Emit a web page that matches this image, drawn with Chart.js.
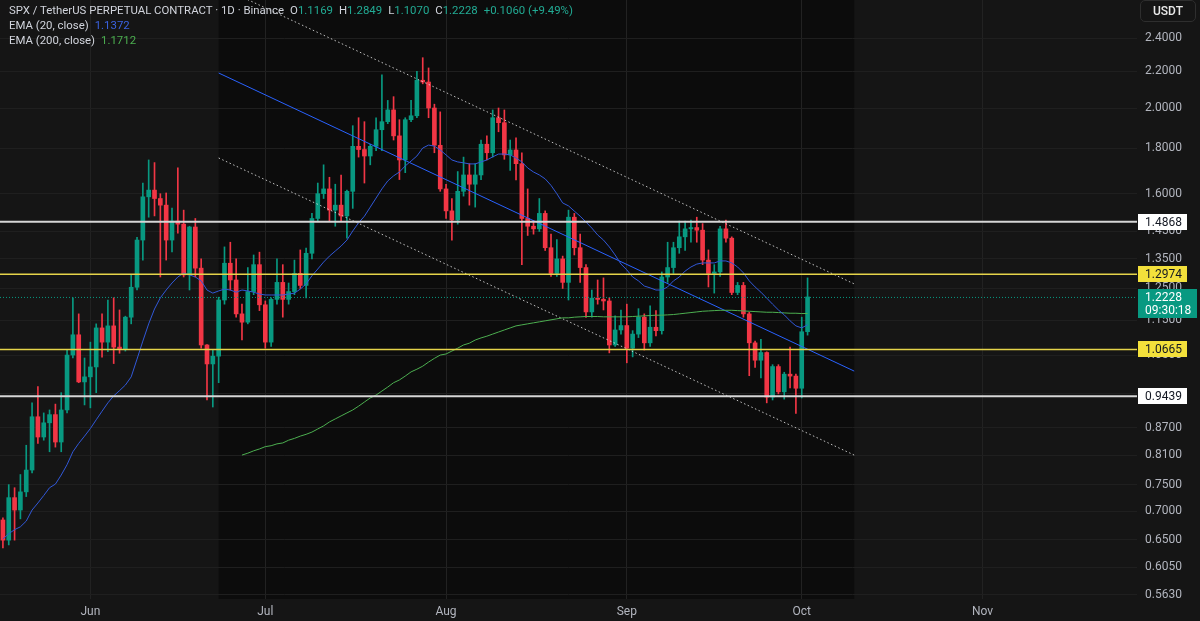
<!DOCTYPE html>
<html>
<head>
<meta charset="utf-8">
<script src="https://cdn.jsdelivr.net/npm/chart.js@4.4.1/dist/chart.umd.min.js"></script>
<style>
html, body { margin: 0; padding: 0; background: #151515; }
#wrap { position: relative; width: 1200px; height: 621px; overflow: hidden; }
#legend { position: absolute; left: 9px; top: 3px; font: 11.4px Roboto, sans-serif; color: #d1d4dc; line-height: 15.2px; white-space: nowrap; }
#legend .k { margin-left: 6px; }
#legend .up { color: #22ab94; }
#legend .e20 { color: #3a62e0; margin-left: 6px; }
#legend .e200 { color: #4caf50; margin-left: 6px; }
#unit { position: absolute; left: 1140px; top: 0; width: 56px; height: 22px; border: 1px solid #2e2e2e; border-radius: 5px; box-sizing: border-box; color: #e8e8e8; font: 500 12px Roboto, sans-serif; line-height: 21px; text-align: center; }
</style>
</head>
<body>
<div id="wrap">
  <canvas id="myChart" width="1200" height="621"></canvas>
  <div id="legend">
    <div><span>SPX / TetherUS PERPETUAL CONTRACT · 1D · Binance</span><span class="k">O</span><span class="up" id="vO"></span><span class="k">H</span><span class="up" id="vH"></span><span class="k">L</span><span class="up" id="vL"></span><span class="k">C</span><span class="up" id="vC"></span><span class="k up" id="vChg"></span></div>
    <div>EMA (20, close)<span class="e20" id="vE20"></span></div>
    <div>EMA (200, close)<span class="e200" id="vE200"></span></div>
  </div>
  <div id="unit">USDT</div>
</div>
<script>
// daily candles from 2025-05-17 to 2025-10-02, axis runs on to late November
const firstDay = [2025, 4, 17];
const dayCount = 195;
const monthTicks = ['Jan', 'Feb', 'Mar', 'Apr', 'May', 'Jun', 'Jul', 'Aug', 'Sep', 'Oct', 'Nov', 'Dec'];
const yTicks = [2.4, 2.2, 2.0, 1.8, 1.6, 1.45, 1.35, 1.25, 1.15, 1.05, 0.95, 0.87, 0.81, 0.75, 0.70, 0.65, 0.605, 0.563];

const opens = [
  0.684, 0.649, 0.725, 0.702, 0.736, 0.779, 0.895, 0.849, 0.881, 0.90,
  0.838, 0.911, 1.051, 1.108, 0.98, 0.993, 1.019, 1.128, 1.087, 1.134,
  1.073, 1.068, 1.16, 1.254, 1.418, 1.587, 1.615, 1.58, 1.553, 1.418,
  1.49, 1.478, 1.295, 1.467, 1.318, 1.079, 1.027, 1.048, 1.213, 1.335,
  1.278, 1.17, 1.145, 1.24, 1.33, 1.198, 1.087, 1.215, 1.27, 1.215,
  1.24, 1.30, 1.26, 1.37, 1.50, 1.60, 1.62, 1.533, 1.553, 1.51,
  1.61, 1.81, 1.795, 1.765, 1.81, 1.89, 1.93, 1.99, 1.86, 1.747,
  1.94, 1.96, 2.15, 2.14, 2.0, 1.815, 1.62, 1.53, 1.494, 1.61,
  1.68, 1.64, 1.68, 1.82, 1.78, 1.95, 1.925, 1.77, 1.793, 1.73,
  1.50, 1.47, 1.46, 1.52, 1.39, 1.30, 1.35, 1.27, 1.505, 1.39,
  1.32, 1.176, 1.219, 1.215, 1.21, 1.079, 1.122, 1.135, 1.07, 1.11,
  1.16, 1.085, 1.13, 1.12, 1.288, 1.32, 1.39, 1.43, 1.46, 1.465,
  1.455, 1.346, 1.30, 1.305, 1.46, 1.425, 1.237, 1.26, 1.17, 1.085,
  1.037, 1.058, 0.942, 1.02, 0.955, 1.0, 0.995, 0.964, 1.1169
];
const highs = [
  0.688, 0.75, 0.744, 0.77, 0.831, 0.928, 0.968, 0.904, 0.911, 0.925,
  0.953, 1.065, 1.22, 1.17, 1.043, 1.087, 1.14, 1.17, 1.213, 1.22,
  1.182, 1.163, 1.295, 1.428, 1.645, 1.747, 1.735, 1.60, 1.603, 1.541,
  1.712, 1.533, 1.47, 1.50, 1.35, 1.08, 1.065, 1.222, 1.393, 1.41,
  1.35, 1.2, 1.32, 1.364, 1.374, 1.21, 1.22, 1.35, 1.33, 1.268,
  1.346, 1.382, 1.389, 1.52, 1.645, 1.725, 1.67, 1.64, 1.68, 1.615,
  1.91, 1.95, 1.93, 1.82, 1.95, 2.18, 2.04, 2.06, 1.94, 1.95,
  2.04, 2.2, 2.28, 2.22, 2.02, 1.98, 1.64, 1.58, 1.695, 1.76,
  1.73, 1.73, 1.84, 1.86, 1.99, 2.0, 1.99, 1.84, 1.85, 1.78,
  1.62, 1.49, 1.58, 1.53, 1.44, 1.42, 1.36, 1.533, 1.52, 1.44,
  1.33, 1.245, 1.278, 1.285, 1.22, 1.164, 1.182, 1.20, 1.12, 1.186,
  1.17, 1.195, 1.18, 1.305, 1.41, 1.41, 1.49, 1.49, 1.494, 1.505,
  1.48, 1.382, 1.33, 1.47, 1.494, 1.43, 1.27, 1.27, 1.175, 1.09,
  1.095, 1.06, 1.025, 1.025, 1.005, 1.073, 1.0, 1.16, 1.2849
];
const lows = [
  0.636, 0.641, 0.649, 0.686, 0.727, 0.773, 0.835, 0.842, 0.817, 0.827,
  0.817, 0.904, 1.043, 0.978, 0.923, 0.916, 0.953, 1.045, 1.06, 1.028,
  1.056, 1.062, 1.14, 1.245, 1.346, 1.505, 1.51, 1.288, 1.346, 1.375,
  1.444, 1.288, 1.245, 1.288, 1.07, 0.935, 0.918, 0.978, 1.20, 1.245,
  1.16, 1.093, 1.14, 1.23, 1.18, 1.07, 1.075, 1.20, 1.16, 1.20,
  1.23, 1.25, 1.22, 1.35, 1.49, 1.58, 1.49, 1.47, 1.49, 1.425,
  1.54, 1.76, 1.645, 1.725, 1.79, 1.79, 1.92, 1.84, 1.66, 1.69,
  1.93, 1.95, 2.13, 1.95, 1.78, 1.61, 1.50, 1.418, 1.478, 1.59,
  1.553, 1.545, 1.66, 1.747, 1.76, 1.88, 1.75, 1.70, 1.658, 1.33,
  1.435, 1.44, 1.45, 1.38, 1.29, 1.29, 1.25, 1.213, 1.364, 1.27,
  1.159, 1.16, 1.20, 1.182, 1.057, 1.075, 1.11, 1.03, 1.046, 1.10,
  1.065, 1.075, 1.105, 1.11, 1.27, 1.30, 1.37, 1.38, 1.41, 1.41,
  1.33, 1.255, 1.235, 1.29, 1.41, 1.23, 1.23, 1.16, 0.996, 1.018,
  0.99, 0.928, 0.935, 0.95, 0.937, 0.965, 0.903, 0.94, 1.107
];
const closes = [
  0.649, 0.725, 0.702, 0.736, 0.779, 0.895, 0.849, 0.881, 0.90, 0.838,
  0.911, 1.051, 1.108, 0.98, 0.993, 1.019, 1.128, 1.087, 1.134, 1.073,
  1.068, 1.16, 1.254, 1.418, 1.587, 1.615, 1.58, 1.553, 1.418, 1.49,
  1.478, 1.295, 1.467, 1.318, 1.079, 1.027, 1.048, 1.213, 1.335, 1.278,
  1.17, 1.145, 1.24, 1.33, 1.198, 1.087, 1.215, 1.27, 1.215, 1.24,
  1.30, 1.26, 1.37, 1.50, 1.60, 1.62, 1.533, 1.553, 1.51, 1.61,
  1.81, 1.795, 1.765, 1.81, 1.89, 1.93, 1.99, 1.86, 1.747, 1.94,
  1.96, 2.15, 2.14, 2.0, 1.815, 1.62, 1.53, 1.494, 1.61, 1.68,
  1.64, 1.68, 1.82, 1.78, 1.95, 1.925, 1.77, 1.793, 1.73, 1.50,
  1.47, 1.46, 1.52, 1.39, 1.30, 1.35, 1.27, 1.505, 1.39, 1.32,
  1.176, 1.219, 1.215, 1.21, 1.079, 1.122, 1.135, 1.07, 1.11, 1.16,
  1.085, 1.13, 1.12, 1.288, 1.32, 1.39, 1.43, 1.46, 1.465, 1.455,
  1.346, 1.30, 1.305, 1.46, 1.425, 1.237, 1.26, 1.17, 1.085, 1.037,
  1.058, 0.942, 1.02, 0.955, 1.0, 0.995, 0.964, 1.1168, 1.2228
];

const ema20 = [
  0.651, 0.660, 0.667, 0.672, 0.682, 0.702, 0.715, 0.729, 0.744, 0.751,
  0.769, 0.790, 0.817, 0.835, 0.851, 0.868, 0.888, 0.908, 0.928, 0.945,
  0.958, 0.972, 0.993, 1.040, 1.090, 1.140, 1.185, 1.220, 1.245, 1.268,
  1.288, 1.301, 1.295, 1.288, 1.275, 1.245, 1.235, 1.242, 1.248, 1.245,
  1.238, 1.245, 1.242, 1.238, 1.232, 1.229, 1.229, 1.229, 1.229, 1.232,
  1.235, 1.248, 1.265, 1.292, 1.315, 1.339, 1.360, 1.378, 1.396, 1.418,
  1.452, 1.483, 1.509, 1.545, 1.582, 1.620, 1.654, 1.676, 1.693, 1.720,
  1.742, 1.765, 1.802, 1.816, 1.811, 1.793, 1.770, 1.747, 1.738, 1.734,
  1.729, 1.729, 1.738, 1.747, 1.761, 1.774, 1.774, 1.770, 1.756, 1.738,
  1.711, 1.693, 1.680, 1.663, 1.635, 1.600, 1.562, 1.550, 1.529, 1.509,
  1.486, 1.463, 1.437, 1.418, 1.393, 1.364, 1.332, 1.312, 1.288, 1.275,
  1.258, 1.252, 1.245, 1.245, 1.255, 1.275, 1.288, 1.308, 1.322, 1.332,
  1.336, 1.336, 1.336, 1.343, 1.343, 1.336, 1.322, 1.302, 1.275, 1.255,
  1.238, 1.219, 1.200, 1.182, 1.167, 1.149, 1.134, 1.128, 1.1372
];
const ema200Start = 41;
const ema200 = [
  0.810, 0.814, 0.819, 0.823, 0.828, 0.830, 0.834, 0.836, 0.842,
  0.846, 0.851, 0.855, 0.860, 0.867, 0.874, 0.883, 0.890, 0.897, 0.904,
  0.911, 0.920, 0.930, 0.940, 0.947, 0.957, 0.967, 0.978, 0.985, 0.995,
  1.006, 1.013, 1.021, 1.032, 1.042, 1.051, 1.054, 1.062, 1.070, 1.079,
  1.084, 1.093, 1.099, 1.104, 1.110, 1.116, 1.122, 1.128, 1.134, 1.137,
  1.140, 1.143, 1.146, 1.149, 1.152, 1.155, 1.158, 1.158, 1.160, 1.161,
  1.162, 1.162, 1.162, 1.161, 1.161, 1.161, 1.161, 1.161, 1.162, 1.163,
  1.164, 1.165, 1.166, 1.166, 1.167, 1.168, 1.170, 1.172, 1.174, 1.176,
  1.178, 1.179, 1.180, 1.181, 1.181, 1.181, 1.180, 1.179, 1.178, 1.177,
  1.176, 1.175, 1.175, 1.174, 1.173, 1.172, 1.172, 1.171, 1.1712
];

// parallel channel drawn on the chart: two anchor candles and the price of each line there
const channelIdx = [37, 146];
const channelUpper = [2.748, 1.265];
const channelMid = [2.191, 1.008];
const channelLower = [1.756, 0.810];

// horizontal levels
const levels = [1.4868, 1.2974, 1.0665, 0.9439];
const lastPrice = 1.2228;
const countdown = '09:30:18';

const UP = '#089981', DOWN = '#f23645';
const levelStyle = [
  { line: '#d6d6d6', box: '#ffffff', w: 2 },
  { line: '#e5d44a', box: '#f3e03b', w: 1.5 },
  { line: '#e5d44a', box: '#f3e03b', w: 1.5 },
  { line: '#d6d6d6', box: '#ffffff', w: 2 }
];

const days = [];
for (let i = 0; i < dayCount; i++) days.push(new Date(firstDay[0], firstDay[1], firstDay[2] + i));
const labels = days.map(d => d.toISOString().slice(0, 10));
const isMonthStart = i => days[i] && days[i].getDate() === 1;

const candleColors = opens.map((o, i) => closes[i] >= o ? UP : DOWN);

function pad(arr, start) {
  const out = new Array(dayCount).fill(null);
  arr.forEach((v, i) => { out[start + i] = v; });
  return out;
}
function segment(idx, vals) {
  const out = new Array(dayCount).fill(null);
  out[idx[0]] = vals[0];
  out[idx[1]] = vals[1];
  return out;
}

// header values straight from the last candle
const n = closes.length - 1;
const chg = closes[n] - closes[n - 1];
document.getElementById('vO').textContent = opens[n].toFixed(4);
document.getElementById('vH').textContent = highs[n].toFixed(4);
document.getElementById('vL').textContent = lows[n].toFixed(4);
document.getElementById('vC').textContent = closes[n].toFixed(4);
document.getElementById('vChg').textContent = '+' + chg.toFixed(4) + ' (+' + (chg / closes[n - 1] * 100).toFixed(2) + '%)';
document.getElementById('vE20').textContent = ema20[n].toFixed(4);
document.getElementById('vE200').textContent = ema200[ema200.length - 1].toFixed(4);

const overlay = {
  id: 'overlay',
  beforeDraw(chart) {
    const { ctx, chartArea: a, scales: { x } } = chart;
    ctx.save();
    ctx.fillStyle = '#151515';
    ctx.fillRect(0, 0, chart.width, chart.height);
    const x0 = x.getPixelForValue(channelIdx[0]);
    const x1 = x.getPixelForValue(channelIdx[1]);
    ctx.fillStyle = '#0c0c0c';
    ctx.fillRect(x0, a.top, x1 - x0, a.bottom - a.top);
    ctx.restore();
  },
  afterDatasetsDraw(chart) {
    const { ctx, chartArea: a, scales: { y } } = chart;
    ctx.save();
    levels.forEach((v, i) => {
      const py = y.getPixelForValue(v);
      ctx.strokeStyle = levelStyle[i].line;
      ctx.lineWidth = levelStyle[i].w;
      ctx.beginPath();
      ctx.moveTo(a.left, py);
      ctx.lineTo(a.right, py);
      ctx.stroke();
    });
    const pl = y.getPixelForValue(lastPrice);
    ctx.strokeStyle = UP;
    ctx.lineWidth = 1;
    ctx.setLineDash([1, 2]);
    ctx.beginPath();
    ctx.moveTo(a.left, pl + 0.5);
    ctx.lineTo(a.right, pl + 0.5);
    ctx.stroke();
    ctx.restore();
  },
  afterDraw(chart) {
    const { ctx, chartArea: a, scales: { y } } = chart;
    ctx.save();
    // the lowest tick label is cut by the time axis strip
    ctx.fillStyle = '#151515';
    ctx.fillRect(a.right, a.bottom, chart.width - a.right, chart.height - a.bottom);
    ctx.font = '12px Roboto';
    ctx.textBaseline = 'middle';
    levels.forEach((v, i) => {
      const py = Math.round(y.getPixelForValue(v));
      ctx.fillStyle = levelStyle[i].box;
      ctx.fillRect(a.right + 1, py - 8, 49, 16);
      ctx.fillStyle = '#131722';
      ctx.fillText(v.toFixed(4), a.right + 8, py + 0.5);
    });
    const pl = Math.round(y.getPixelForValue(lastPrice));
    ctx.fillStyle = UP;
    ctx.fillRect(a.right + 1, pl - 8, 59, 29);
    ctx.fillStyle = '#ffffff';
    ctx.fillText(lastPrice.toFixed(4), a.right + 8, pl + 0.5);
    ctx.fillText(countdown, a.right + 8, pl + 14);
    ctx.restore();
  }
};

Chart.defaults.font.family = 'Roboto';

new Chart(document.getElementById('myChart'), {
  type: 'bar',
  data: {
    labels: labels,
    datasets: [
      { type: 'line', data: pad(ema20, 0), borderColor: '#3158d8', borderWidth: 1, pointRadius: 0, order: 1 },
      { type: 'line', data: pad(ema200, ema200Start), borderColor: '#4caf50', borderWidth: 1, pointRadius: 0, order: 1 },
      { type: 'line', data: segment(channelIdx, channelUpper), borderColor: 'rgba(225,225,225,0.85)', borderDash: [1.5, 2.5], borderWidth: 1, pointRadius: 0, spanGaps: true, order: 1 },
      { type: 'line', data: segment(channelIdx, channelMid), borderColor: '#2962ff', borderWidth: 1, pointRadius: 0, spanGaps: true, order: 1 },
      { type: 'line', data: segment(channelIdx, channelLower), borderColor: 'rgba(225,225,225,0.85)', borderDash: [1.5, 2.5], borderWidth: 1, pointRadius: 0, spanGaps: true, order: 1 },
      { label: 'wick', data: lows.map((l, i) => [l, highs[i]]), backgroundColor: candleColors, barThickness: 1, grouped: false, order: 3 },
      { label: 'body', data: opens.map((o, i) => [o, closes[i]]), backgroundColor: candleColors, barThickness: 4, minBarLength: 1, grouped: false, order: 2 }
    ]
  },
  options: {
    responsive: false,
    animation: false,
    devicePixelRatio: 1,
    layout: { padding: 0 },
    plugins: { legend: { display: false }, tooltip: { enabled: false } },
    scales: {
      x: {
        offset: true,
        border: { display: false },
        grid: { offset: false, drawTicks: false, color: c => isMonthStart(c.index) ? '#222222' : 'transparent' },
        ticks: {
          autoSkip: false, maxRotation: 0, minRotation: 0, padding: 6,
          color: '#b2b5be', font: { size: 12 },
          callback: (v, i) => isMonthStart(i) ? monthTicks[days[i].getMonth()] : ''
        },
        afterFit: s => { s.height = 22; s.paddingLeft = 0; s.paddingRight = 0; }
      },
      y: {
        type: 'logarithmic',
        position: 'right',
        min: 0.5568,
        max: 2.6497,
        border: { display: false },
        grid: { drawTicks: false, color: '#1f1f1f' },
        ticks: { padding: 8, color: '#b2b5be', font: { size: 12 }, callback: v => Number(v).toFixed(4) },
        afterBuildTicks: s => { s.ticks = yTicks.map(v => ({ value: v })); },
        afterFit: s => { s.width = 63; s.paddingTop = 0; s.paddingBottom = 0; }
      }
    }
  },
  plugins: [overlay]
});
</script>
</body>
</html>
